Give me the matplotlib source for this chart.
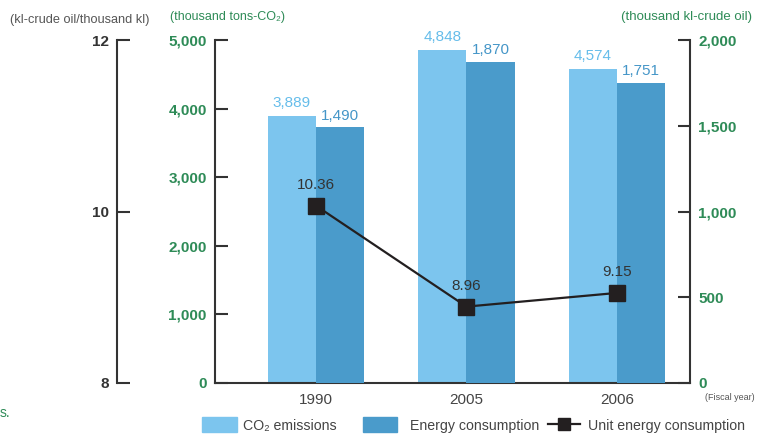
import matplotlib
matplotlib.use("Agg")
import matplotlib.pyplot as plt
from matplotlib.patches import Patch
from matplotlib.lines import Line2D
import numpy as np

plt.rcParams['font.family'] = ['Liberation Sans', 'DejaVu Sans']

years = ["1990", "2005", "2006"]
co2 = [3889, 4848, 4574]
energy = [1490, 1870, 1751]
unit = [10.36, 8.96, 9.15]

light = "#7cc5ee"
dark = "#4a9bcb"
green = "#2e8b57"
grey = "#444444"
black = "#231f20"

fig = plt.figure(figsize=(7.68, 4.34), dpi=100)

# main axes (CO2, left scale)
ax = fig.add_axes([215/768, 51/434, 475/768, 343/434])
x = np.arange(len(years))
w = 0.32
ax.bar(x - w/2, co2, width=w, color=light, zorder=2)
ax.set_xlim(-0.671, 2.485)
ax.set_ylim(0, 5000)
ax.set_yticks([0, 1000, 2000, 3000, 4000, 5000])
ax.set_yticklabels(["0", "1,000", "2,000", "3,000", "4,000", "5,000"])
ax.set_xticks(x)
ax.set_xticklabels(years)
ax.tick_params(axis='x', length=0, labelsize=11, labelcolor=grey, pad=7)
ax.tick_params(axis='y', direction='in', length=9, width=1.5, color="#333333",
               labelsize=11, labelcolor=green, pad=6)
for lab in ax.get_yticklabels():
    lab.set_fontweight('bold')
ax.spines['top'].set_visible(False)
ax.spines['right'].set_visible(False)
for s in ['left', 'bottom']:
    ax.spines[s].set_linewidth(1.5)
    ax.spines[s].set_color("#333333")
for xi, v in zip(x, co2):
    ax.annotate(f"{v:,}", (xi - w/2, v), xytext=(0, 9.5), textcoords='offset points',
                ha='center', va='center', fontsize=11, color="#66bdea")

# energy consumption (right scale)
ax2 = ax.twinx()
ax2.bar(x + w/2, energy, width=w, color=dark, zorder=2)
ax2.set_ylim(0, 2000)
ax2.set_yticks([0, 500, 1000, 1500, 2000])
ax2.set_yticklabels(["0", "500", "1,000", "1,500", "2,000"])
ax2.tick_params(axis='y', direction='in', length=9, width=1.5, color="#333333",
                labelsize=11, labelcolor=green, pad=6)
for lab in ax2.get_yticklabels():
    lab.set_fontweight('bold')
for s in ['top', 'left', 'bottom']:
    ax2.spines[s].set_visible(False)
ax2.spines['right'].set_linewidth(1.5)
ax2.spines['right'].set_color("#333333")
for xi, v in zip(x, energy):
    ax2.annotate(f"{v:,}", (xi + w/2, v), xytext=(0, 8.5), textcoords='offset points',
                 ha='center', va='center', fontsize=11, color="#4596c8")

# unit energy consumption line (own hidden scale, as drawn in the original)
ax3 = ax.twinx()
ax3.set_ylim(7.90, 12.66)
ax3.axis('off')
ax3.plot(x, unit, color=black, lw=1.6, marker='s', markersize=11.5, zorder=5)
for xi, v in zip(x, unit):
    ax3.annotate(f"{v:.2f}", (xi, v), xytext=(0, 15), textcoords='offset points',
                 ha='center', va='center', fontsize=11, color="#333333")

# outer left axis for unit energy consumption
ax4 = fig.add_axes([117/768, 51/434, 0.001, 343/434])
ax4.set_ylim(8, 12)
ax4.set_xticks([])
ax4.set_yticks([8, 10, 12])
ax4.tick_params(axis='y', direction='in', length=9, width=1.5, color="#333333",
                labelsize=11, labelcolor="#333333", pad=6)
for lab in ax4.get_yticklabels():
    lab.set_fontweight('bold')
for s in ['top', 'right', 'bottom']:
    ax4.spines[s].set_visible(False)
ax4.spines['left'].set_linewidth(1.5)
ax4.spines['left'].set_color("#333333")
ax4.patch.set_visible(False)

# unit labels
fig.text(10/768, 1 - 20/434, "(kl-crude oil/thousand kl)", fontsize=9.2, color="#555555", va='center')
fig.text(170/768, 1 - 17/434, "(thousand tons-CO\u2082)", fontsize=9, color=green, va='center')
fig.text(752/768, 1 - 17/434, "(thousand kl-crude oil)", fontsize=9.5, color=green, va='center', ha='right')
fig.text(705/768, 1 - 397/434, "(Fiscal year)", fontsize=6.5, color="#555555", va='center')
fig.text(0, 1 - 413/434, "s.", fontsize=10, color=green, va='center')

# legend, one entry at a time to keep the original spacing
items = [
    (Patch(color=light), "CO\u2082 emissions", 202, 2.45, 0.42),
    (Patch(color=dark), "Energy consumption", 363, 2.4, 0.92),
    (Line2D([0], [0], color=black, lw=1.6, marker='s', markersize=9),
     "Unit energy consumption", 548, 2.26, 0.56),
]
for h, lab, px, hl, pad in items:
    fig.legend([h], [lab], loc='center left', bbox_to_anchor=(px/768, 1 - 425/434),
               frameon=False, fontsize=10.2, handlelength=hl, handleheight=1.2,
               handletextpad=pad, borderpad=0, borderaxespad=0, labelcolor="#444444")

fig.savefig("out.png", dpi=100)
